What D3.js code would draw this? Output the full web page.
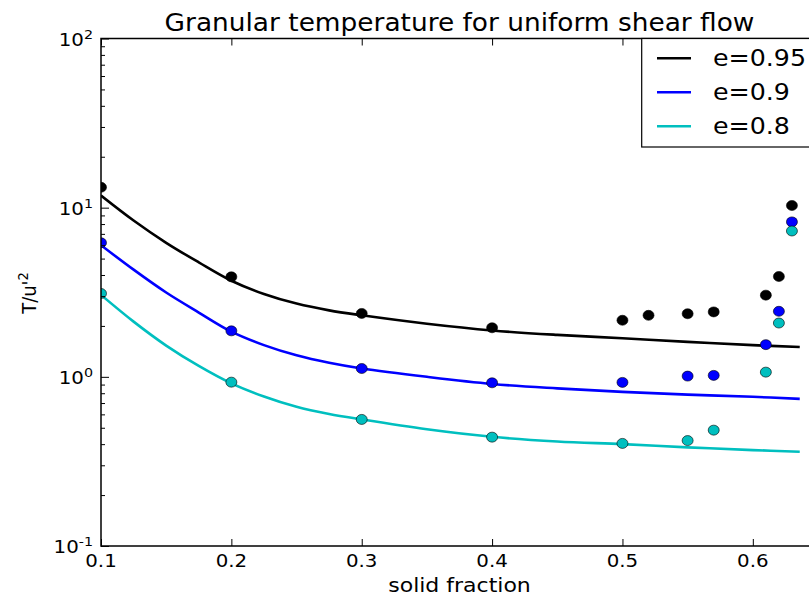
<!DOCTYPE html>
<html>
<head>
<meta charset="utf-8">
<script src="https://cdn.jsdelivr.net/npm/d3@7"></script>
<style>
  body { margin: 0; background: #fff; }
  svg { display: block; font-family: "DejaVu Sans", sans-serif; }
</style>
</head>
<body>
<script>
'use strict';

// measured points (solid fraction vs T/u'^2)
const blackX = [0.1, 0.2, 0.3, 0.4, 0.5, 0.52, 0.55, 0.57, 0.61, 0.62, 0.63];
const blackT = [13.2, 3.9, 2.37, 1.95, 2.16, 2.31, 2.36, 2.42, 3.04, 3.92, 10.3];
const blueX = [0.1, 0.2, 0.3, 0.4, 0.5, 0.55, 0.57, 0.61, 0.62, 0.63];
const blueT = [6.2, 1.87, 1.12, 0.922, 0.927, 1.01, 1.02, 1.55, 2.44, 8.24];
const cyanX = [0.1, 0.2, 0.3, 0.4, 0.5, 0.55, 0.57, 0.61, 0.62, 0.63];
const cyanT = [3.11, 0.93, 0.56, 0.44, 0.404, 0.42, 0.484, 1.066, 2.08, 7.28];

// theory curves
const curveX = [0.1, 0.125, 0.15, 0.175, 0.2, 0.225, 0.25, 0.275, 0.3, 0.35, 0.4, 0.45, 0.5, 0.55, 0.6, 0.636];
const curve95 = [11.8, 8.4, 6.2, 4.75, 3.7, 3.09, 2.71, 2.47, 2.31, 2.06, 1.88, 1.77, 1.69, 1.61, 1.54, 1.50];
const curve90 = [6.0, 4.3, 3.15, 2.4, 1.85, 1.54, 1.34, 1.21, 1.12, 1.0, 0.908, 0.855, 0.815, 0.785, 0.762, 0.741];
const curve80 = [3.05, 2.12, 1.53, 1.16, 0.915, 0.765, 0.665, 0.603, 0.56, 0.49, 0.442, 0.415, 0.40, 0.383, 0.369, 0.361];

const legendLabels = ['e=0.95', 'e=0.9', 'e=0.8'];
const xTicks = [0.1, 0.2, 0.3, 0.4, 0.5, 0.6];
const yTicks = [0.1, 1, 10, 100];
const yTickExp = ['-1', '0', '1', '2'];

const W = 809, H = 597;
const plotLeft = 101, plotRight = 818, plotTop = 38.5, plotBottom = 546;
const stretch = 1.1; // picture is a bit wider than tall

const svg = d3.select('body').append('svg')
  .attr('width', W)
  .attr('height', H);

const x = d3.scaleLinear().domain([0.1, 0.65]).range([plotLeft, plotRight]);
const y = d3.scaleLog().domain([0.1, 100]).range([plotBottom, plotTop]);

// text helper, stretched horizontally like the source
function addText(px, py, str, size, anchor, rot) {
  let t = 'translate(' + px + ',' + py + ') scale(' + stretch + ',1)';
  if (rot) t += ' rotate(' + rot + ')';
  return svg.append('text')
    .attr('transform', t)
    .attr('text-anchor', anchor || 'middle')
    .style('font-size', size + 'px')
    .style('fill', '#000')
    .text(str);
}

svg.append('clipPath').attr('id', 'plotclip')
  .append('rect')
  .attr('x', plotLeft).attr('y', plotTop)
  .attr('width', plotRight - plotLeft).attr('height', plotBottom - plotTop);

const plot = svg.append('g').attr('clip-path', 'url(#plotclip)');

// curves
const series = [
  { cx: blackX, cy: blackT, curve: curve95, color: '#000000' },
  { cx: blueX, cy: blueT, curve: curve90, color: '#0000ff' },
  { cx: cyanX, cy: cyanT, curve: curve80, color: '#00bfbf' }
];

const line = d3.line()
  .x(d => x(d[0]))
  .y(d => y(d[1]))
  .curve(d3.curveCatmullRom.alpha(0.5));

series.forEach(s => {
  plot.append('path')
    .datum(curveX.map((v, i) => [v, s.curve[i]]))
    .attr('fill', 'none')
    .attr('stroke', s.color)
    .attr('stroke-width', 2.6)
    .attr('d', line);
});

// data points
series.forEach(s => {
  plot.selectAll(null)
    .data(s.cx.map((v, i) => [v, s.cy[i]]))
    .enter()
    .append('ellipse')
      .attr('cx', d => x(d[0]))
      .attr('cy', d => y(d[1]))
      .attr('rx', 5.5)
      .attr('ry', 5)
      .attr('fill', s.color)
      .attr('stroke', '#000')
      .attr('stroke-width', 0.6);
});

// ticks (pointing inward on all four sides)
const minorY = [];
[0.1, 1, 10].forEach(dec => {
  for (let k = 2; k <= 9; k++) minorY.push(dec * k);
});

svg.append('g')
  .attr('transform', 'translate(0,' + plotBottom + ')')
  .call(d3.axisBottom(x).tickValues(xTicks).tickSize(-7).tickSizeOuter(0).tickFormat(''));
svg.append('g')
  .attr('transform', 'translate(0,' + plotTop + ')')
  .call(d3.axisTop(x).tickValues(xTicks).tickSize(-7).tickSizeOuter(0).tickFormat(''));
svg.append('g')
  .attr('transform', 'translate(' + plotLeft + ',0)')
  .call(d3.axisLeft(y).tickValues(yTicks).tickSize(-8).tickSizeOuter(0).tickFormat(''));
svg.append('g')
  .attr('transform', 'translate(' + plotLeft + ',0)')
  .call(d3.axisLeft(y).tickValues(minorY).tickSize(-4).tickSizeOuter(0).tickFormat(''));
svg.append('g')
  .attr('transform', 'translate(' + plotRight + ',0)')
  .call(d3.axisRight(y).tickValues(yTicks).tickSize(-8).tickSizeOuter(0).tickFormat(''));

svg.selectAll('.domain').remove();
svg.selectAll('.tick line').attr('stroke', '#000').attr('stroke-width', 1);

// frame
svg.append('rect')
  .attr('x', plotLeft).attr('y', plotTop)
  .attr('width', plotRight - plotLeft).attr('height', plotBottom - plotTop)
  .attr('fill', 'none')
  .attr('stroke', '#000')
  .attr('stroke-width', 1.5);

// tick labels
xTicks.forEach(v => addText(x(v), 567, String(v), 18, 'middle'));

yTicks.forEach((v, i) => {
  const t = addText(93, y(v) + 7, '', 18, 'end');
  t.append('tspan').text('10');
  t.append('tspan').attr('dy', -7).style('font-size', '13px').text(yTickExp[i]);
});

// title and axis labels
addText(459.5, 31, 'Granular temperature for uniform shear flow', 24, 'middle');
addText(459.5, 592, 'solid fraction', 20, 'middle');
const yl = addText(36, 293, '', 18, 'middle', -90);
yl.append('tspan').text("T/u'");
yl.append('tspan').attr('dy', -7).style('font-size', '13px').text('2');

// legend
svg.append('rect')
  .attr('x', 641.7).attr('y', plotTop)
  .attr('width', 172).attr('height', 108.5)
  .attr('fill', '#fff')
  .attr('stroke', '#000')
  .attr('stroke-width', 1.2);

legendLabels.forEach((lab, i) => {
  const ly = 58.3 + i * 34;
  svg.append('line')
    .attr('x1', 657).attr('x2', 691)
    .attr('y1', ly).attr('y2', ly)
    .attr('stroke', series[i].color)
    .attr('stroke-width', 2.6);
  addText(713, ly + 8, lab, 23, 'start');
});
</script>
</body>
</html>
